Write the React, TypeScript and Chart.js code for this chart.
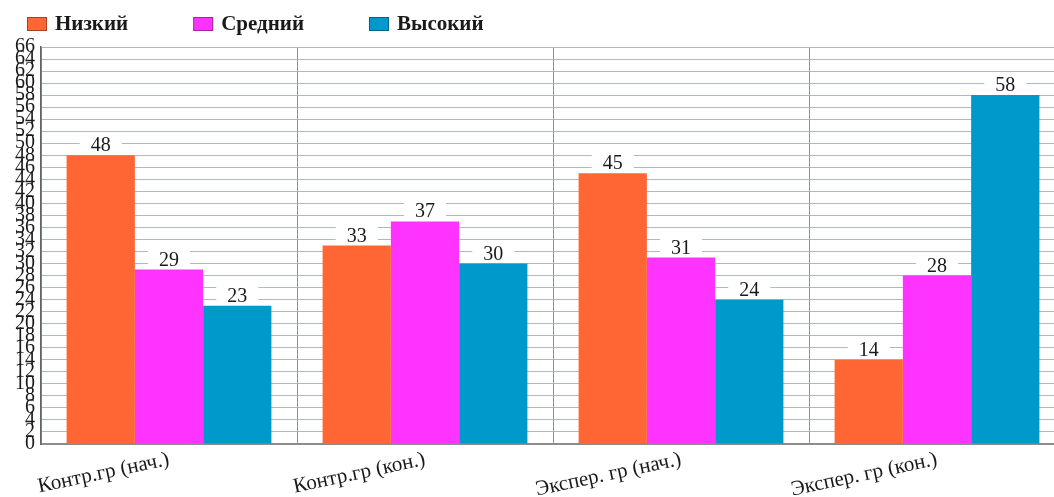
import React, { useEffect, useRef } from "react";
import { Chart, registerables } from "chart.js";

Chart.register(...registerables);

const categories = ["Контр.гр (нач.)", "Контр.гр (кон.)", "Экспер. гр (нач.)", "Экспер. гр (кон.)"];
const seriesNames = ["Низкий", "Средний", "Высокий"];
const lowValues = [48, 33, 45, 14];
const midValues = [29, 37, 31, 28];
const highValues = [23, 30, 24, 58];
const seriesColors = ["#FF6633", "#FF33FF", "#0099CC"];
const yMin = 0;
const yMax = 66;
const yStep = 2;

const FONT = "'Liberation Serif', 'DejaVu Serif', serif";

const legendPlugin = {
  id: "customLegend",
  afterDraw(chart: any) {
    const ctx = chart.ctx;
    ctx.save();
    ctx.font = `bold 21px ${FONT}`;
    ctx.textBaseline = "middle";
    let x = 27;
    const y = 24;
    chart.data.datasets.forEach((ds: any) => {
      ctx.fillStyle = ds.backgroundColor;
      ctx.fillRect(x, y - 7, 20, 14);
      ctx.strokeStyle = "rgba(0,0,0,0.35)";
      ctx.lineWidth = 1;
      ctx.strokeRect(x + 0.5, y - 6.5, 19, 13);
      ctx.fillStyle = "#1a1a1a";
      ctx.textAlign = "left";
      const tx = x + 28;
      ctx.fillText(ds.label, tx, y + 1);
      const w = ctx.measureText(ds.label).width;
      x = tx + w + 65;
    });
    ctx.restore();
  },
};

const valueLabelPlugin = {
  id: "valueLabels",
  afterDatasetsDraw(chart: any) {
    const ctx = chart.ctx;
    ctx.save();
    ctx.font = `20px ${FONT}`;
    ctx.textAlign = "center";
    ctx.textBaseline = "alphabetic";
    chart.data.datasets.forEach((ds: any, i: number) => {
      const meta = chart.getDatasetMeta(i);
      meta.data.forEach((bar: any, j: number) => {
        const text = String(ds.data[j]);
        const w = ctx.measureText(text).width;
        const bx = bar.x;
        const by = bar.y;
        ctx.fillStyle = "#ffffff";
        ctx.fillRect(bx - w / 2 - 11, by - 19, w + 22, 18);
        ctx.fillStyle = "#1a1a1a";
        ctx.fillText(text, bx, by - 4);
      });
    });
    ctx.restore();
  },
};

export default function App() {
  const ref = useRef<HTMLCanvasElement | null>(null);

  useEffect(() => {
    if (!ref.current) return;
    const chart = new Chart(ref.current, {
      type: "bar",
      data: {
        labels: categories,
        datasets: [
          { label: seriesNames[0], data: lowValues, backgroundColor: seriesColors[0] },
          { label: seriesNames[1], data: midValues, backgroundColor: seriesColors[1] },
          { label: seriesNames[2], data: highValues, backgroundColor: seriesColors[2] },
        ].map((d) => ({ ...d, categoryPercentage: 0.8, barPercentage: 1, borderWidth: 0 })),
      },
      options: {
        animation: false,
        responsive: true,
        maintainAspectRatio: false,
        layout: { padding: { top: 47, right: 1, left: 0, bottom: 0 } },
        plugins: {
          legend: { display: false },
          tooltip: { enabled: false },
        },
        scales: {
          x: {
            grid: { color: "#7f93b0", lineWidth: 1, drawTicks: false, offset: true },
            border: { color: "#8c8c8c", width: 2 },
            ticks: {
              color: "#1a1a1a",
              font: { family: FONT, size: 21 },
              maxRotation: 12,
              minRotation: 12,
              autoSkip: false,
              padding: 3,
            },
            afterFit(scale: any) {
              scale.height = 53;
              scale.paddingLeft = 0;
              scale.paddingRight = 0;
            },
          },
          y: {
            min: yMin,
            max: yMax,
            grid: { color: "#a9b9cf", lineWidth: 1, drawTicks: false },
            border: { color: "#666666", width: 1.5 },
            ticks: {
              stepSize: yStep,
              autoSkip: false,
              color: "#1a1a1a",
              font: { family: FONT, size: 20 },
              padding: 6,
            },
            afterFit(scale: any) {
              scale.width = 41;
              scale.paddingTop = 0;
              scale.paddingBottom = 0;
            },
          },
        },
      },
      plugins: [valueLabelPlugin, legendPlugin],
    });
    return () => chart.destroy();
  }, []);

  return (
    <div style={{ position: "absolute", left: 0, top: 0, width: 1054, height: 497, overflow: "hidden", background: "#fff" }}>
      <div style={{ position: "relative", width: 1066, height: 497 }}>
        <canvas ref={ref} />
      </div>
    </div>
  );
}
